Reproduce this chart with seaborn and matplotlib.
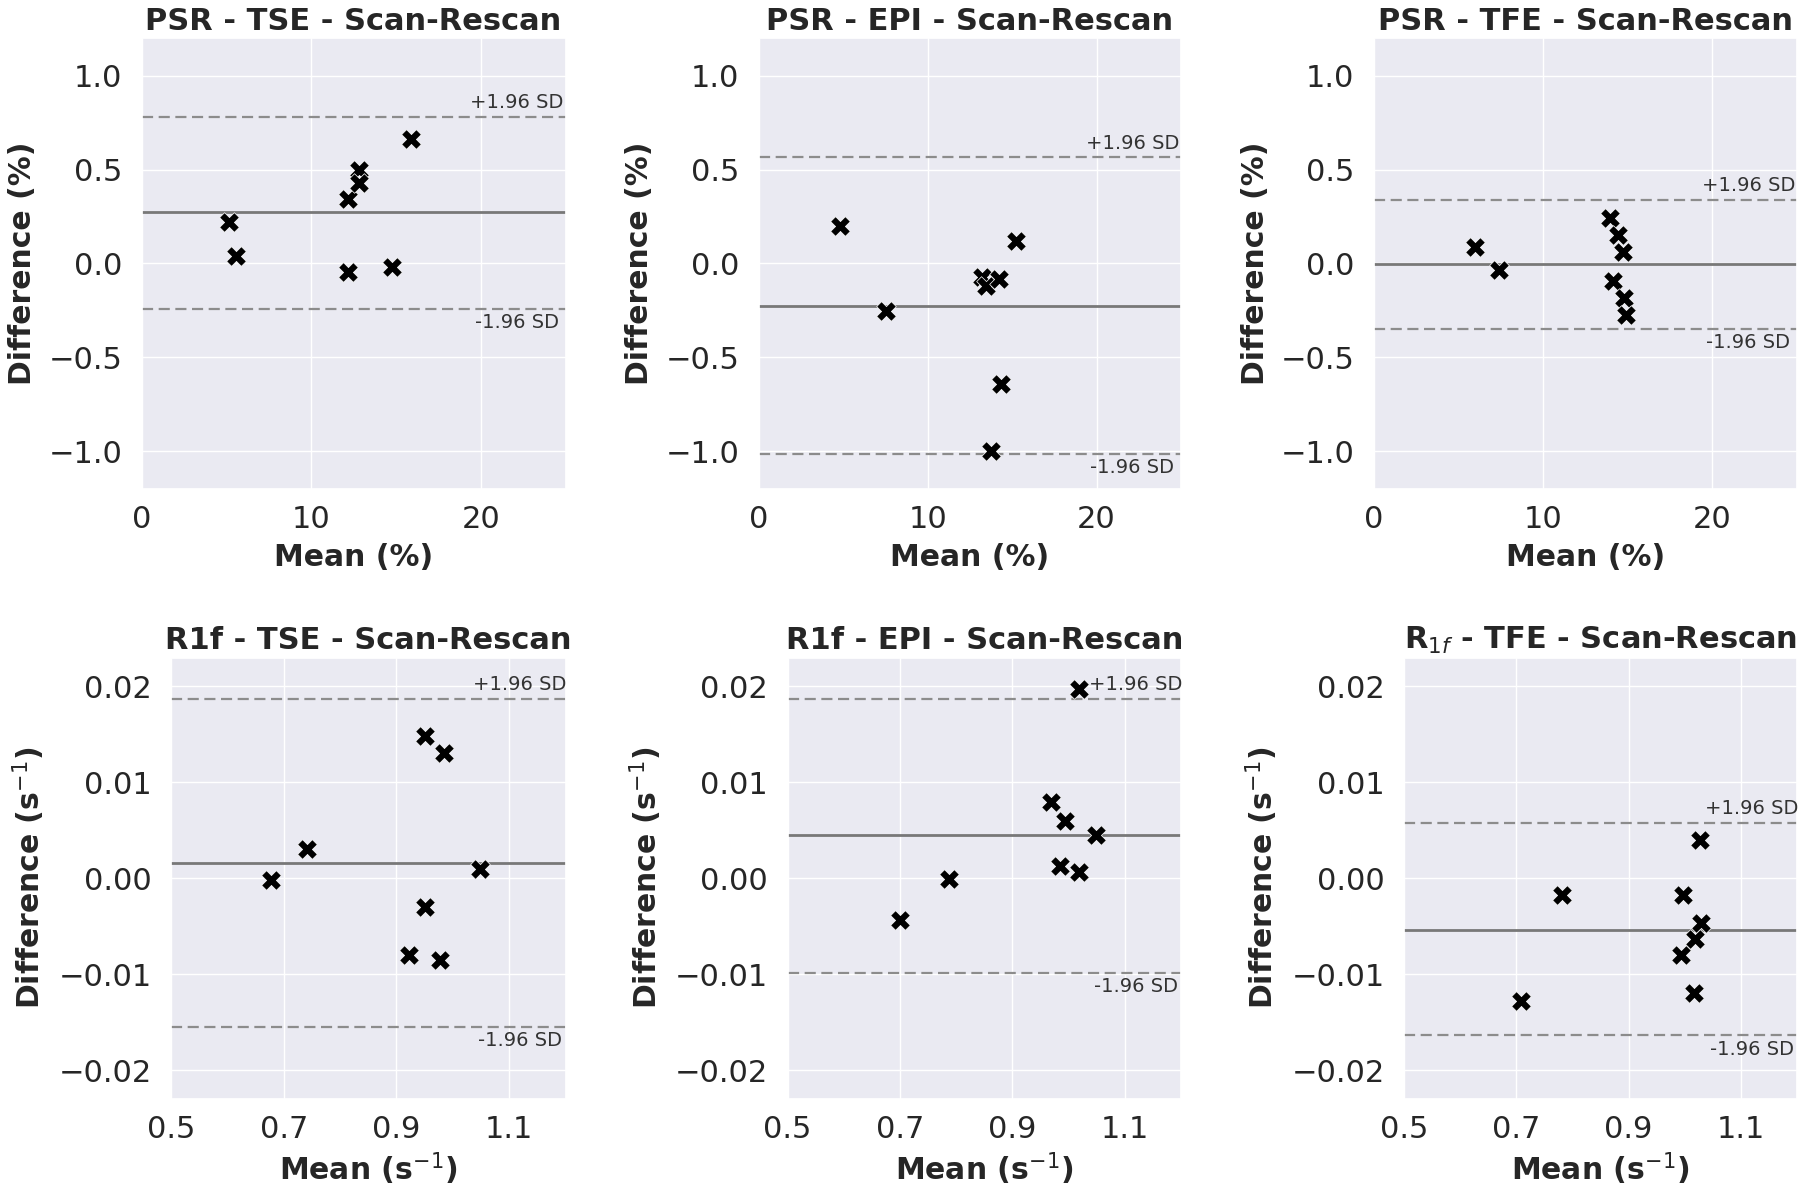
import numpy as np
import matplotlib.pyplot as plt
import seaborn as sns

# Bland-Altman data, scan-rescan (x = mean of the two scans, y = difference)
# PSR (%)
psr_tse_mean = [5.18, 5.55, 12.16, 12.84, 12.84, 12.16, 14.77, 15.86]
psr_tse_diff = [0.22, 0.04, 0.345, 0.50, 0.43, -0.043, -0.018, 0.665]
psr_epi_mean = [4.83, 7.52, 13.22, 13.43, 14.25, 15.23, 14.36, 13.75]
psr_epi_diff = [0.20, -0.255, -0.07, -0.12, -0.08, 0.122, -0.641, -1.0]
psr_tfe_mean = [6.0, 7.42, 13.93, 14.41, 14.73, 14.11, 14.79, 14.89]
psr_tfe_diff = [0.088, -0.033, 0.245, 0.153, 0.059, -0.092, -0.186, -0.275]

# R1f (s^-1)
r1f_tse_mean = [0.677, 0.742, 0.951, 0.985, 1.049, 0.951, 0.923, 0.978]
r1f_tse_diff = [-0.0002, 0.0031, 0.0148, 0.0131, 0.001, -0.003, -0.008, -0.0085]
r1f_epi_mean = [1.019, 0.969, 0.994, 1.048, 0.984, 1.018, 0.788, 0.701]
r1f_epi_diff = [0.0197, 0.0080, 0.0060, 0.0045, 0.00125, 0.0006, -0.0001, -0.0044]
r1f_tfe_mean = [0.708, 0.782, 0.997, 1.028, 1.029, 1.019, 0.994, 1.016]
r1f_tfe_diff = [-0.0128, -0.0017, -0.0017, 0.0040, -0.0047, -0.0063, -0.0080, -0.0120]

# bias and limits of agreement (mean, +1.96 SD, -1.96 SD)
psr_tse_lines = [0.272, 0.78, -0.243]
psr_epi_lines = [-0.225, 0.565, -1.016]
psr_tfe_lines = [-0.004, 0.339, -0.349]
r1f_tse_lines = [0.00156, 0.01867, -0.0155]
r1f_epi_lines = [0.00447, 0.0187, -0.00984]
r1f_tfe_lines = [-0.00537, 0.00576, -0.0164]

titles = ['PSR - TSE - Scan-Rescan', 'PSR - EPI - Scan-Rescan', 'PSR - TFE - Scan-Rescan',
          'R1f - TSE - Scan-Rescan', 'R1f - EPI - Scan-Rescan', 'R$_{1f}$ - TFE - Scan-Rescan']

panels = [
    (psr_tse_mean, psr_tse_diff, psr_tse_lines),
    (psr_epi_mean, psr_epi_diff, psr_epi_lines),
    (psr_tfe_mean, psr_tfe_diff, psr_tfe_lines),
    (r1f_tse_mean, r1f_tse_diff, r1f_tse_lines),
    (r1f_epi_mean, r1f_epi_diff, r1f_epi_lines),
    (r1f_tfe_mean, r1f_tfe_diff, r1f_tfe_lines),
]

# axes boxes [left, bottom, width, height] in figure fraction
positions = [
    [0.0787, 0.5886, 0.2355, 0.3792],
    [0.4216, 0.5886, 0.2345, 0.3792],
    [0.7633, 0.5886, 0.2350, 0.3792],
    [0.0950, 0.0751, 0.2192, 0.3713],
    [0.4375, 0.0751, 0.2186, 0.3713],
    [0.7800, 0.0751, 0.2183, 0.3713],
]

sns.set_theme(style='darkgrid')

fig = plt.figure(figsize=(18, 11.88), dpi=100)

for i, (x, y, lines) in enumerate(panels):
    ax = fig.add_axes(positions[i])
    sns.scatterplot(x=x, y=y, ax=ax, marker='X', color='black', s=200,
                    edgecolor='white', linewidth=0.5, zorder=3)

    # bias line and limits of agreement
    ax.axhline(lines[0], color='#787878', lw=2, zorder=2)
    ax.axhline(lines[1], color='#8c8c8c', lw=1.6, ls=(0, (5, 2.5)), zorder=2)
    ax.axhline(lines[2], color='#8c8c8c', lw=1.6, ls=(0, (5, 2.5)), zorder=2)
    ax.annotate('+1.96 SD', xy=(0.885, lines[1]), xycoords=ax.get_yaxis_transform(),
                xytext=(0, 3.5), textcoords='offset points', ha='center', va='bottom',
                fontsize=14, color='#333333')
    ax.annotate('-1.96 SD', xy=(0.885, lines[2]), xycoords=ax.get_yaxis_transform(),
                xytext=(0, -3), textcoords='offset points', ha='center', va='top',
                fontsize=14, color='#333333')

    if i < 3:
        ax.set_xlim(0, 25)
        ax.set_ylim(-1.2, 1.2)
        ax.set_xticks([0, 10, 20])
        ax.set_yticks([-1.0, -0.5, 0.0, 0.5, 1.0])
        ax.set_xlabel('Mean (%)', fontsize=21.5, fontweight='bold', labelpad=6)
        ax.set_ylabel('Difference (%)', fontsize=21.5, fontweight='bold', labelpad=8)
    else:
        ax.set_xlim(0.5, 1.2)
        ax.set_ylim(-0.023, 0.023)
        ax.set_xticks([0.5, 0.7, 0.9, 1.1])
        ax.set_yticks([-0.02, -0.01, 0.0, 0.01, 0.02])
        ax.set_xlabel('Mean (s$^{-1}$)', fontsize=21.5, fontweight='bold', labelpad=4)
        ax.set_ylabel('Difference (s$^{-1}$)', fontsize=21.5, fontweight='bold', labelpad=8)

    ax.tick_params(axis='x', labelsize=22, length=0, pad=12)
    ax.tick_params(axis='y', labelsize=22, length=0, pad=14)
    ax.set_title(titles[i], fontsize=22, fontweight='bold')

plt.savefig('out.png', dpi=100)
